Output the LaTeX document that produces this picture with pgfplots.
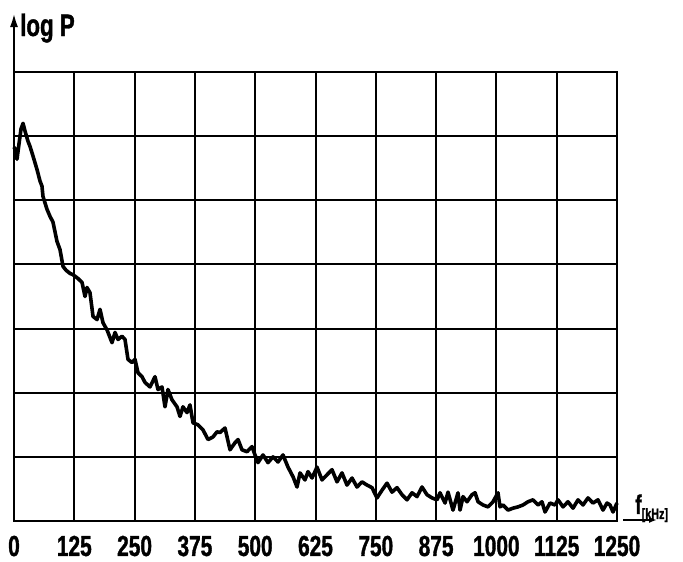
\documentclass[border=0pt]{standalone}
\usepackage{pgfplots}
\pgfplotsset{compat=1.18}
\usepackage{fontspec}
\setmainfont{Liberation Sans}
\newfontfamily\lab{Liberation Sans}[FakeStretch=0.72, FakeBold=1.2]
\usetikzlibrary{arrows.meta}

\begin{document}
\begin{tikzpicture}
\begin{axis}[
    scale only axis,
    width=603pt, height=449pt,
    xmin=0, xmax=1250, ymin=0, ymax=7,
    clip=false,
    axis line style={black, line width=2.4pt},
    xtick={0,125,...,1250},
    xticklabels={0,125,250,375,500,625,750,875,1000,1125,1250},
    ytick={0,1,...,7},
    yticklabels={},
    major tick length=0pt,
    grid=major,
    grid style={black, line width=2pt},
    xticklabel style={font=\lab\bfseries\fontsize{29}{31}\selectfont, anchor=base, yshift=-35pt},
]
\addplot[black, line width=3.6pt, line join=round] coordinates {
(0,5.83) (2.1,5.80) (6.2,5.64) (10.4,5.88) (14.5,6.11) (18.7,6.20) (22.8,6.08)
(29.0,5.92) (33.2,5.84) (39.4,5.69) (47.7,5.48) (53.9,5.30) (58.0,5.22) (60.1,5.06)
(68.4,4.86) (74.6,4.75) (80.8,4.66) (89.1,4.36) (95.4,4.23) (101.6,3.97) (107.8,3.91)
(116.1,3.86) (122.3,3.84) (132.7,3.78) (141.0,3.72) (147.2,3.50) (151.3,3.64) (157.5,3.56)
(163.8,3.19) (172.1,3.14) (178.3,3.30) (184.5,3.09) (192.8,2.98) (203.2,2.78) (209.4,2.94)
(215.6,2.83) (223.9,2.88) (230.1,2.83) (236.3,2.52) (244.6,2.47) (250.8,2.52) (257.1,2.31)
(265.3,2.25) (271.6,2.16) (281.9,2.09) (292.3,2.25) (298.5,2.05) (306.8,2.09) (313.0,1.78)
(319.2,2.05) (327.5,1.89) (337.9,1.78) (344.1,1.63) (350.3,1.78) (358.6,1.69) (364.8,1.81)
(371.1,1.53) (381.4,1.50) (391.8,1.42) (402.2,1.27) (412.5,1.31) (420.8,1.39) (427.0,1.38)
(437.4,1.45) (447.8,1.11) (458.1,1.22) (464.4,1.27) (472.6,1.11) (483.0,1.08) (493.4,1.16)
(499.6,1.03) (505.8,0.91) (516.2,1.03) (526.5,0.91) (536.9,1.00) (547.3,0.92) (557.6,1.03)
(568.0,0.84) (578.4,0.69) (586.7,0.53) (592.9,0.75) (603.2,0.64) (609.5,0.77) (617.8,0.67)
(628.1,0.84) (638.5,0.64) (648.8,0.72) (659.2,0.80) (669.6,0.61) (679.9,0.75) (690.3,0.56)
(700.7,0.67) (711.0,0.53) (721.4,0.61) (731.8,0.56) (742.1,0.52) (752.5,0.36) (762.9,0.48)
(773.2,0.59) (783.6,0.45) (794.0,0.52) (804.3,0.41) (814.7,0.33) (825.1,0.44) (835.4,0.38)
(845.8,0.53) (856.1,0.41) (866.5,0.36) (876.9,0.33) (883.1,0.44) (893.5,0.28) (899.7,0.45)
(910.0,0.17) (920.4,0.44) (924.6,0.17) (930.8,0.38) (939.1,0.30) (949.4,0.41) (955.7,0.44)
(961.9,0.30) (972.2,0.25) (982.6,0.22) (993.0,0.30) (1003.3,0.44) (1007.5,0.22) (1013.7,0.25)
(1024.1,0.17) (1034.4,0.20) (1044.8,0.22) (1055.2,0.25) (1065.5,0.30) (1075.9,0.33) (1086.3,0.25)
(1094.5,0.30) (1100.8,0.14) (1111.1,0.28) (1121.5,0.25) (1127.7,0.33) (1138.1,0.22) (1148.4,0.30)
(1158.8,0.20) (1169.2,0.33) (1179.5,0.25) (1189.9,0.36) (1200.3,0.28) (1210.6,0.33) (1221.0,0.17)
(1229.3,0.28) (1235.5,0.25) (1241.7,0.14) (1250,0.28)
};
\coordinate (O) at (rel axis cs:0,0);
\coordinate (TL) at (rel axis cs:0,1);
\coordinate (BR) at (rel axis cs:1,0);
\end{axis}
% y axis arrow and label
\draw[line width=2.4pt, -{Latex[length=14pt,width=8pt]}] (TL) -- ++(0,59pt);
\node[anchor=base west, inner sep=0pt, font=\lab\bfseries\fontsize{31}{33}\selectfont] at ([xshift=6pt,yshift=36pt]TL) {log P};
% x axis label
\node[anchor=base west, inner sep=0pt, font=\lab\bfseries\fontsize{27}{29}\selectfont] at ([xshift=18pt,yshift=7pt]BR) {f\raisebox{-5pt}{\fontsize{15}{16}\selectfont[kHz]}};
\draw[line width=1.8pt, -{Latex[length=8pt,width=6pt]}] ([xshift=6pt,yshift=1pt]BR) -- ++(34pt,0);
% page size
\path (O) ++(-14pt,-41pt) rectangle ++(683pt,562pt);
\end{tikzpicture}
\end{document}
